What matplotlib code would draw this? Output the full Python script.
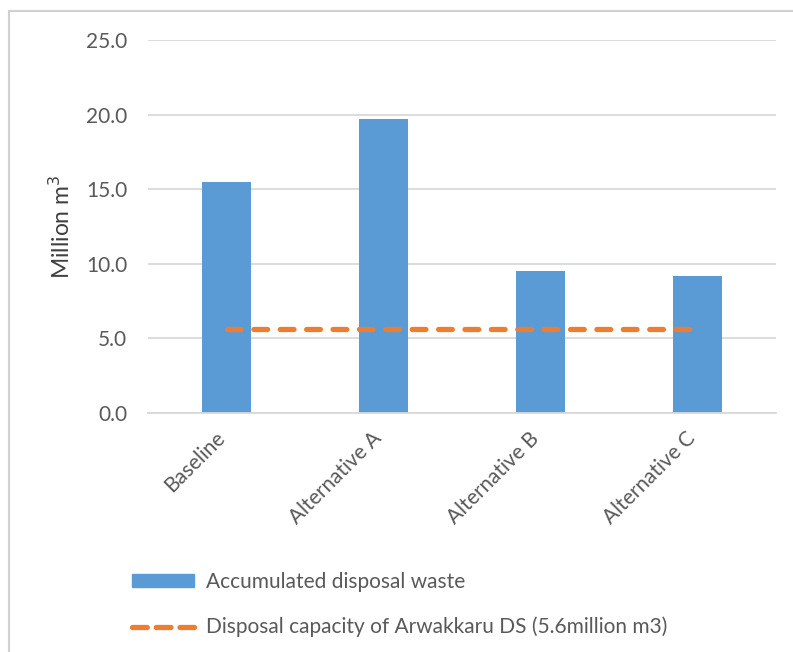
import matplotlib
matplotlib.use("Agg")
import matplotlib.pyplot as plt
import matplotlib.transforms as mtransforms
from matplotlib.patches import Rectangle
from matplotlib.lines import Line2D
import numpy as np

categories = ["Baseline", "Alternative A", "Alternative B", "Alternative C"]
accumulated_waste = [15.45, 19.7, 9.5, 9.2]
disposal_capacity = [5.6, 5.6, 5.6, 5.6]
ytick_values = [0.0, 5.0, 10.0, 15.0, 20.0, 25.0]

bar_color = "#5B9BD5"
line_color = "#ED7D31"
text_color = "#595959"
grid_color = "#D9D9D9"

plt.rcParams["font.family"] = ["Lato", "DejaVu Sans"]

fig = plt.figure(figsize=(7.93, 6.52), dpi=100)
ax = fig.add_axes([148 / 793, 1 - 413 / 652, (776 - 148) / 793, (413 - 40) / 652])

x = np.arange(len(categories))
ax.bar(x, accumulated_waste, width=0.31, color=bar_color, zorder=2)
dash_line, = ax.plot(x, disposal_capacity, color=line_color, lw=3.8,
                     solid_capstyle="round", dash_capstyle="round", zorder=3)
dash_line.set_dashes((2.6, 2.4))

ax.set_xlim(-0.5, len(categories) - 0.5)
ax.set_ylim(0, 25)
ax.set_yticks(ytick_values)
ax.set_yticklabels([f"{v:.1f}" for v in ytick_values], fontsize=15, color=text_color)
ax.set_xticks(x)
ax.set_xticklabels(categories, rotation=45, ha="right", va="center",
                   rotation_mode="anchor", fontsize=15, color=text_color)
ax.tick_params(axis="both", length=0)
ax.tick_params(axis="y", pad=15)
ax.tick_params(axis="x", pad=16)

# nudge the slanted category labels a little to the left
shift = mtransforms.ScaledTranslation(-5 / 100, 0, fig.dpi_scale_trans)
for lbl in ax.get_xticklabels():
    lbl.set_transform(lbl.get_transform() + shift)

ax.yaxis.grid(True, color=grid_color, lw=1.3, zorder=0)
ax.set_axisbelow(True)
for side in ["top", "right", "left"]:
    ax.spines[side].set_visible(False)
ax.spines["bottom"].set_color(grid_color)
ax.spines["bottom"].set_linewidth(1.3)

ax.set_ylabel("Million m$^3$", fontsize=16.5, color="#404040", labelpad=9)

# outer chart frame, running off the right and bottom edges
fig.patches.append(Rectangle((9 / 793, -0.05), 1.0, 1.05 - 11 / 652,
                             transform=fig.transFigure, fill=False,
                             edgecolor="#D0D0D0", lw=1.5))

handles = [
    Rectangle((0, 0), 1, 1, color=bar_color),
    Line2D([0], [0], color=line_color, lw=3.8, dash_capstyle="round", dashes=(2.8, 1.7)),
]
labels = ["Accumulated disposal waste",
          "Disposal capacity of Arwakkaru DS (5.6million m3)"]
fig.legend(handles, labels, loc="upper left", bbox_to_anchor=(113 / 793, 1 - 553 / 652),
           frameon=False, fontsize=15, labelcolor=text_color, handlelength=3.0,
           handleheight=0.55, handletextpad=0.55, labelspacing=1.2)

fig.savefig("out.png", dpi=100, facecolor="white")
